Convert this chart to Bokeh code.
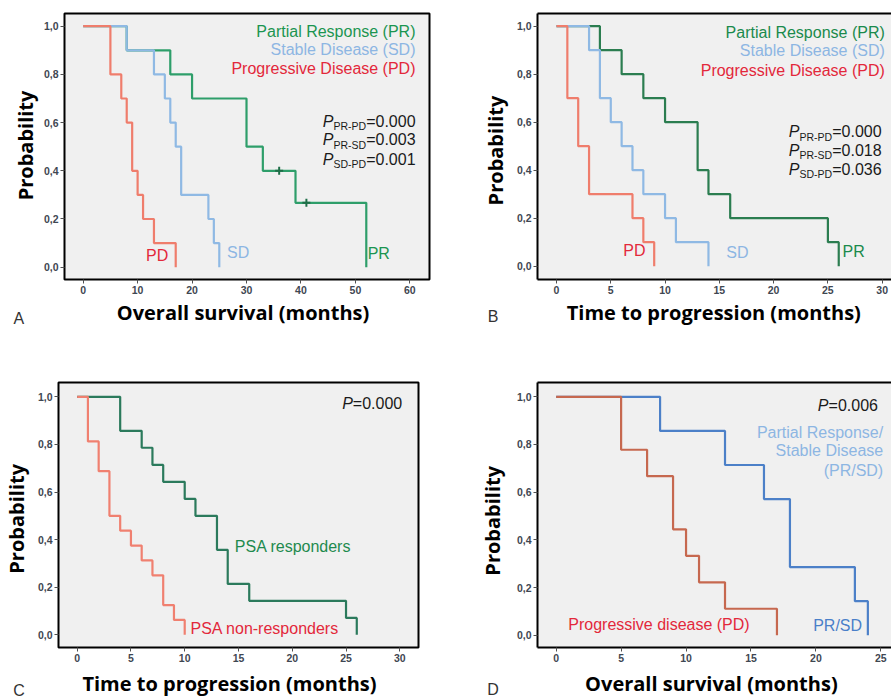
import math
from bokeh.plotting import figure
from bokeh.models import Range1d, FixedTicker, CustomJSTickFormatter, Label, LinearAxis
from bokeh.layouts import column, row
from bokeh.embed import file_html
from bokeh.resources import INLINE

# ---------------- data ----------------
# Panel A: overall survival (months)
a_pd_t = [0, 5, 7, 8, 9, 10, 11, 13, 17]
a_pd_s = [1.0, 0.8, 0.7, 0.6, 0.4, 0.3, 0.2, 0.1, 0.0]
a_sd_t = [0, 8, 13, 15, 16, 17, 18, 23, 24, 25]
a_sd_s = [1.0, 0.9, 0.8, 0.7, 0.6, 0.5, 0.3, 0.2, 0.1, 0.0]
a_pr_t = [0, 8, 16, 20, 30, 33, 39, 52]
a_pr_s = [1.0, 0.9, 0.8, 0.7, 0.5, 0.4, 0.267, 0.0]
a_pr_cens_t = [36, 41]
a_pr_cens_s = [0.4, 0.267]

# Panel B: time to progression (months)
b_pd_t = [0, 1, 2, 3, 7, 8, 9]
b_pd_s = [1.0, 0.7, 0.5, 0.3, 0.2, 0.1, 0.0]
b_sd_t = [0, 3, 4, 5, 6, 7, 8, 10, 11, 14]
b_sd_s = [1.0, 0.9, 0.7, 0.6, 0.5, 0.4, 0.3, 0.2, 0.1, 0.0]
b_pr_t = [0, 4, 6, 8, 10, 13, 14, 16, 25, 26]
b_pr_s = [1.0, 0.9, 0.8, 0.7, 0.6, 0.4, 0.3, 0.2, 0.1, 0.0]

# Panel C: time to progression by PSA response
c_resp_t = [0, 4, 6, 7, 8, 10, 11, 13, 14, 16, 25, 26]
c_resp_s = [1.0, 0.857, 0.786, 0.714, 0.643, 0.571, 0.5, 0.357, 0.214, 0.143, 0.071, 0.0]
c_non_t = [0, 1, 2, 3, 4, 5, 6, 7, 8, 9, 10]
c_non_s = [1.0, 0.8125, 0.6875, 0.5, 0.4375, 0.375, 0.3125, 0.25, 0.125, 0.0625, 0.0]

# Panel D: overall survival PR/SD vs PD
d_pd_t = [0, 5, 7, 9, 10, 11, 13, 17]
d_pd_s = [1.0, 0.778, 0.667, 0.444, 0.333, 0.222, 0.111, 0.0]
d_prsd_t = [0, 8, 13, 16, 18, 23, 24]
d_prsd_s = [1.0, 0.857, 0.714, 0.571, 0.286, 0.143, 0.0]

y_ticks = [0.0, 0.2, 0.4, 0.6, 0.8, 1.0]
a_x_ticks = [0, 10, 20, 30, 40, 50, 60]
b_x_ticks = [0, 5, 10, 15, 20, 25, 30]
c_x_ticks = [0, 5, 10, 15, 20, 25, 30]
d_x_ticks = [0, 5, 10, 15, 20, 25]

p_values_a = [("PR-PD", "=0.000"), ("PR-SD", "=0.003"), ("SD-PD", "=0.001")]
p_values_b = [("PR-PD", "=0.000"), ("PR-SD", "=0.018"), ("SD-PD", "=0.036")]
p_value_c = "=0.000"
p_value_d = "=0.006"

# ---------------- style ----------------
SANS = "Liberation Sans"
TITLE_FONT = "Open Sans"
TICK_COLOR = "#3f4752"
GREEN_TXT = "#1b9550"
BLUE_TXT = "#8db6e3"
RED_TXT = "#e3283b"
BLACK_TXT = "#1a1a1a"


def panel(w, h, xr, yr, mb, xticks, closed):
    p = figure(width=w, height=h, x_range=Range1d(*xr), y_range=Range1d(*yr),
               output_backend="svg", toolbar_location=None,
               min_border_left=mb[0], min_border_right=mb[1],
               min_border_top=mb[2], min_border_bottom=mb[3])
    p.background_fill_color = "#f0f0f0"
    p.border_fill_color = "white"
    p.grid.visible = False
    p.xaxis.ticker = FixedTicker(ticks=xticks)
    p.yaxis.ticker = FixedTicker(ticks=y_ticks)
    p.yaxis.formatter = CustomJSTickFormatter(code="return tick.toFixed(1).replace('.', ',');")
    for ax in p.axis:
        ax.major_tick_out = 4
        ax.major_tick_in = 0
        ax.minor_tick_line_color = None
        ax.major_tick_line_color = "#505050"
        ax.major_tick_line_width = 1
        ax.major_label_text_font = SANS
        ax.major_label_text_font_style = "bold"
        ax.major_label_text_font_size = "10.5px"
        ax.major_label_text_color = TICK_COLOR
        ax.major_label_standoff = 2
    if closed:
        p.outline_line_color = "black"
        p.outline_line_width = 2
        p.outline_line_alpha = 1.0
        for ax in p.axis:
            ax.axis_line_color = None
    else:
        p.outline_line_color = None
        for ax in p.axis:
            ax.axis_line_color = "black"
            ax.axis_line_width = 2
        top = LinearAxis(ticker=FixedTicker(ticks=[]), major_tick_out=0, major_tick_in=0,
                         minor_tick_out=0, minor_tick_in=0, major_label_standoff=0,
                         axis_line_color="black", axis_line_width=2,
                         major_label_text_font_size="0px")
        p.add_layout(top, "above")
    return p


def lab(p, x, y, text, color, size="16px", align="left", baseline="middle",
        font=SANS, style="normal", angle=0.0, xo=0, yo=0, place="center"):
    p.add_layout(Label(x=x, y=y, text=text, text_color=color, text_font_size=size,
                       text_align=align, text_baseline=baseline, text_font=font,
                       text_font_style=style, angle=angle, x_offset=xo, y_offset=yo), place)


def titles(p, ylab_x, ylab_y, xlab_x, xlab_y, xtitle, let_x, let_y, letter, let_place):
    lab(p, ylab_x, ylab_y, "Probability", "black", size="20px", align="center",
        font=TITLE_FONT, style="bold", angle=math.pi / 2, place="left")
    lab(p, xlab_x, xlab_y, xtitle, "black", size="20px", align="center",
        font=TITLE_FONT, style="bold", place="below")
    lab(p, let_x, let_y, letter, "#333333", align="center", place=let_place)


def pval(p, x, y, sub, rest):
    lab(p, x, y, "P", BLACK_TXT, style="italic")
    if sub:
        lab(p, x, y, sub, BLACK_TXT, size="10.5px", xo=10.7, yo=-5)
        lab(p, x, y, rest, BLACK_TXT, xo=43.4)
    else:
        lab(p, x, y, rest, BLACK_TXT, xo=10.7)


# ---------------- Panel A ----------------
pA = panel(445, 340, (-3.429, 63.61), (-0.0511, 1.0526), (64, 16, 13, 61), a_x_ticks, True)
pA.step(a_pr_t, a_pr_s, mode="after", line_color="#2e9e6a", line_width=2.2)
pA.scatter(a_pr_cens_t, a_pr_cens_s, marker="cross", size=8, line_color="#1f6e48", line_width=2)
pA.step(a_sd_t, a_sd_s, mode="after", line_color="#8fb9e4", line_width=2.2)
pA.step(a_pd_t, a_pd_s, mode="after", line_color="#ef7d6c", line_width=2.2)
lab(pA, 61.04, 0.979, "Partial Response (PR)", GREEN_TXT, align="right")
lab(pA, 61.04, 0.903, "Stable Disease (SD)", BLUE_TXT, align="right")
lab(pA, 61.04, 0.823, "Progressive Disease (PD)", RED_TXT, align="right")
for (sub, rest), yy in zip(p_values_a, [0.606, 0.528, 0.448]):
    pval(pA, 44.01, yy, sub, rest)
lab(pA, 13.60, 0.047, "PD", RED_TXT, align="center")
lab(pA, 28.48, 0.062, "SD", BLUE_TXT, align="center")
lab(pA, 54.30, 0.055, "PR", GREEN_TXT, align="center")
titles(pA, -10.59, 0.505, 29.36, -0.190, "Overall survival (months)", -11.82, -0.211, "A", "right")

# ---------------- Panel B ----------------
pB = panel(446, 340, (-1.750, 30.86), (-0.0555, 1.0528), (92, 0, 13, 61), b_x_ticks, False)
pB.step(b_pr_t, b_pr_s, mode="after", line_color="#2b7d50", line_width=2.2)
pB.step(b_sd_t, b_sd_s, mode="after", line_color="#8fb9e4", line_width=2.2)
pB.step(b_pd_t, b_pd_s, mode="after", line_color="#ef7d6c", line_width=2.2)
lab(pB, 30.24, 0.975, "Partial Response (PR)", "#1a8a4c", align="right")
lab(pB, 30.24, 0.900, "Stable Disease (SD)", BLUE_TXT, align="right")
lab(pB, 30.24, 0.817, "Progressive Disease (PD)", RED_TXT, align="right")
for (sub, rest), yy in zip(p_values_b, [0.561, 0.484, 0.403]):
    pval(pB, 21.40, yy, sub, rest)
lab(pB, 7.18, 0.065, "PD", RED_TXT, align="center")
lab(pB, 16.67, 0.058, "SD", BLUE_TXT, align="center")
lab(pB, 27.38, 0.061, "PR", "#1a8a4c", align="center")
titles(pB, -5.62, 0.482, 14.49, -0.193, "Time to progression (months)", -5.85, -0.211, "B", "left")

# ---------------- Panel C ----------------
pC = panel(445, 360, (-1.736, 31.74), (-0.0532, 1.0602), (58, 27, 42, 53), c_x_ticks, True)
pC.step(c_resp_t, c_resp_s, mode="after", line_color="#2b7a5c", line_width=2.2)
pC.step(c_non_t, c_non_s, mode="after", line_color="#f08070", line_width=2.2)
pval(pC, 24.64, 0.971, None, p_value_c)
lab(pC, 14.66, 0.372, "PSA responders", "#1e8a4e")
lab(pC, 10.54, 0.028, "PSA non-responders", RED_TXT)
titles(pC, -5.64, 0.4875, 14.16, -0.205, "Time to progression (months)", -5.41, -0.232, "C", "right")

# ---------------- Panel D ----------------
pD = panel(446, 360, (-1.438, 25.82), (-0.0515, 1.060), (92, 0, 42, 52), d_x_ticks, False)
pD.step(d_prsd_t, d_prsd_s, mode="after", line_color="#4c80c8", line_width=2.2)
pD.step(d_pd_t, d_pd_s, mode="after", line_color="#c6684f", line_width=2.2)
pval(pD, 20.15, 0.964, None, p_value_d)
lab(pD, 25.18, 0.850, "Partial Response/", BLUE_TXT, align="right")
lab(pD, 25.18, 0.773, "Stable Disease", BLUE_TXT, align="right")
lab(pD, 25.18, 0.692, "(PR/SD)", BLUE_TXT, align="right")
lab(pD, 0.93, 0.045, "Progressive disease (PD)", RED_TXT)
lab(pD, 19.79, 0.040, "PR/SD", "#4a7fc9")
titles(pD, -4.93, 0.480, 11.95, -0.204, "Overall survival (months)", -4.86, -0.226, "D", "left")

layout = column(row(pA, pB), row(pC, pD))
open("out.html", "w").write(file_html(layout, INLINE))
